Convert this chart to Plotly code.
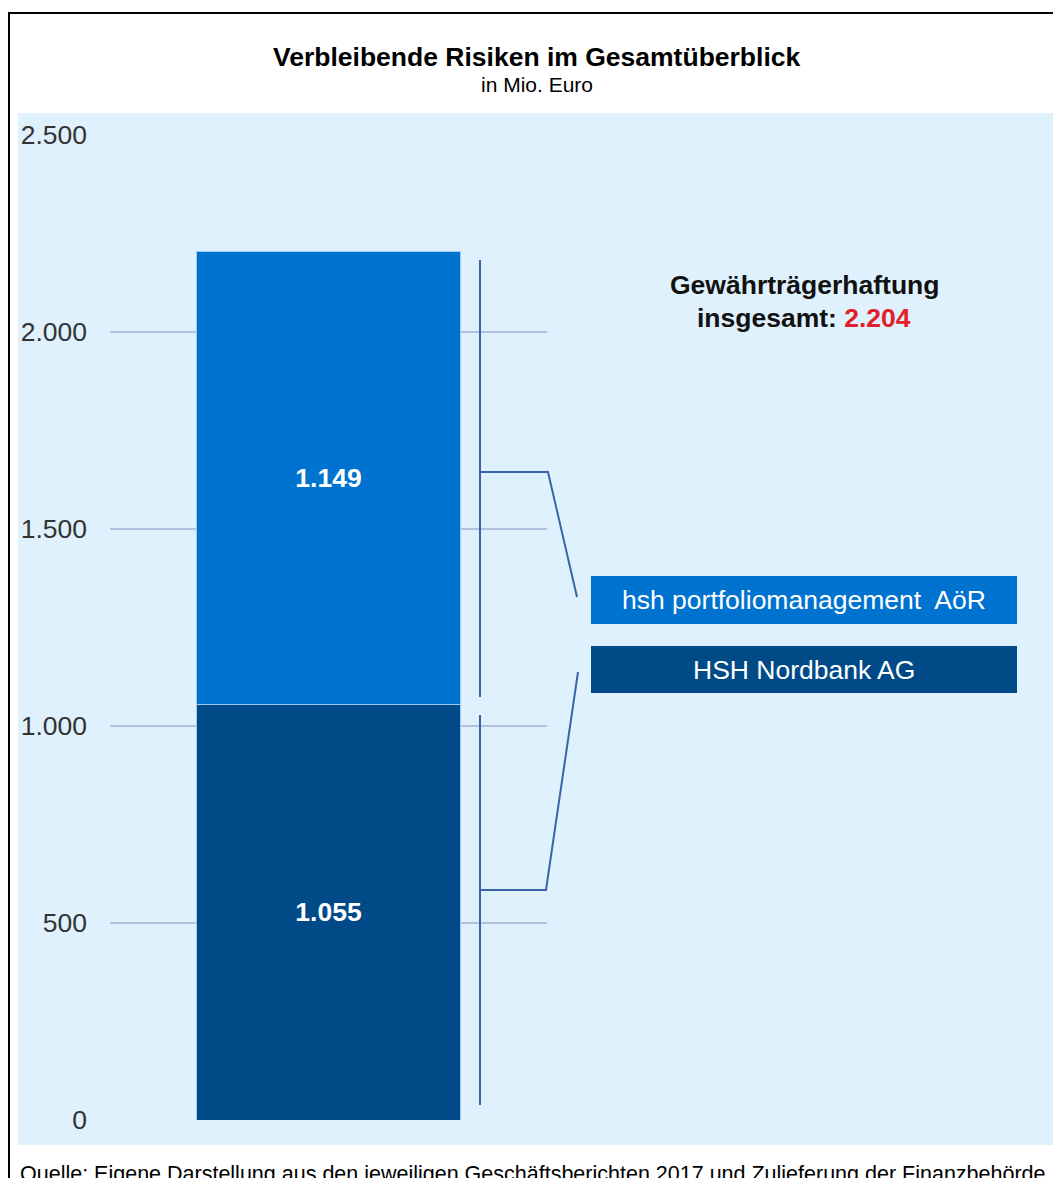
import plotly.graph_objects as go

W, H = 1053, 1178

categories = ["Gesamt"]
series_names = ["HSH Nordbank AG", "hsh portfoliomanagement AöR"]
hsh_nordbank = [1055]
hsh_portfolio = [1149]
colors = ["#004a87", "#0073d0"]
tick_vals = [0, 500, 1000, 1500, 2000, 2500]

total = hsh_nordbank[0] + hsh_portfolio[0]


def px(x):
    return x / W


def py(y):
    return 1 - y / H


def fmt(v):
    return f"{v:,}".replace(",", ".")


FONT = "Liberation Sans, Arial, sans-serif"
FS = 26.5

fig = go.Figure()
for name, vals, col in [(series_names[0], hsh_nordbank, colors[0]),
                        (series_names[1], hsh_portfolio, colors[1])]:
    fig.add_trace(go.Bar(
        x=categories, y=vals, name=name, width=0.602,
        marker=dict(color=col, line=dict(color="#9fcbf0", width=1)),
        texttemplate="<b>%{y:,.0f}</b>", textposition="inside",
        insidetextanchor="middle",
        textfont=dict(color="white", size=FS, family=FONT),
    ))

shapes = [
    # light blue panel
    dict(type="rect", xref="paper", yref="paper", x0=px(18), x1=1.0,
         y0=py(1145), y1=py(113), fillcolor="#dff1fc", line=dict(width=0),
         layer="below"),
    # black frame
    dict(type="line", xref="paper", yref="paper", x0=px(8), x1=1.0,
         y0=py(13), y1=py(13), line=dict(color="black", width=2)),
    dict(type="line", xref="paper", yref="paper", x0=px(9), x1=px(9),
         y0=py(13), y1=0, line=dict(color="black", width=2)),
]
bc = "#3a64a8"
# bracket lines (pixel positions)
segs = [
    [(480, 260), (480, 697)],
    [(480, 715), (480, 1105)],
    [(480, 472), (548, 472), (577, 597)],
    [(480, 890), (546, 890), (578, 672)],
]
for s in segs:
    path = "M " + " L ".join(f"{px(x)},{py(y)}" for x, y in s)
    shapes.append(dict(type="path", xref="paper", yref="paper", path=path,
                       line=dict(color=bc, width=2)))
# legend boxes
shapes.append(dict(type="rect", xref="paper", yref="paper", x0=px(591), x1=px(1017),
                   y0=py(624), y1=py(576), fillcolor=colors[1], line=dict(width=0)))
shapes.append(dict(type="rect", xref="paper", yref="paper", x0=px(591), x1=px(1017),
                   y0=py(693), y1=py(646), fillcolor=colors[0], line=dict(width=0)))

annotations = [
    dict(text="<b>Verbleibende Risiken im Gesamtüberblick</b>", x=px(537), y=py(57),
         font=dict(size=FS, color="black", family=FONT)),
    dict(text="in Mio. Euro", x=px(537), y=py(85),
         font=dict(size=21, color="black", family=FONT)),
    dict(text="<b>Gewährträgerhaftung</b>", x=px(804), y=py(285),
         font=dict(size=FS, color="#111111", family=FONT)),
    dict(text=f"<b>insgesamt: <span style='color:#e3202a'>{fmt(total)}</span></b>",
         x=px(804), y=py(318), font=dict(size=FS, color="#111111", family=FONT)),
    dict(text=series_names[1].replace(" AöR", "&nbsp; AöR"), x=px(804), y=py(600),
         font=dict(size=FS, color="white", family=FONT)),
    dict(text=series_names[0], x=px(804), y=py(670),
         font=dict(size=FS, color="white", family=FONT)),
    dict(text="Quelle: Eigene Darstellung aus den jeweiligen Geschäftsberichten 2017 und Zulieferung der Finanzbehörde",
         x=px(18), y=py(1174), xanchor="left",
         font=dict(size=21.5, color="black", family=FONT)),
]
for a in annotations:
    a.setdefault("xref", "paper")
    a.setdefault("yref", "paper")
    a.setdefault("showarrow", False)
    a.setdefault("xanchor", "center")
    a.setdefault("yanchor", "middle")

fig.update_layout(
    width=W, height=H, margin=dict(l=0, r=0, t=0, b=0, autoexpand=False),
    paper_bgcolor="white", plot_bgcolor="rgba(0,0,0,0)",
    barmode="stack", showlegend=False, separators=",.",
    shapes=shapes, annotations=annotations,
    xaxis=dict(domain=[px(110), px(547)], range=[-0.5, 0.5], showticklabels=False,
               showgrid=False, zeroline=False, showline=False, ticks="",
               automargin=False),
    yaxis=dict(domain=[py(1120), py(135)], range=[0, 2500], tickvals=tick_vals,
               separatethousands=True, tickformat=",d", automargin=False,
               showgrid=True, gridcolor="#b3c3df", gridwidth=2, zeroline=False,
               showline=False, ticks="", ticklabelstandoff=22,
               tickfont=dict(size=FS, color="#333333", family=FONT)),
    font=dict(family=FONT),
)
fig.write_html("out.html")
